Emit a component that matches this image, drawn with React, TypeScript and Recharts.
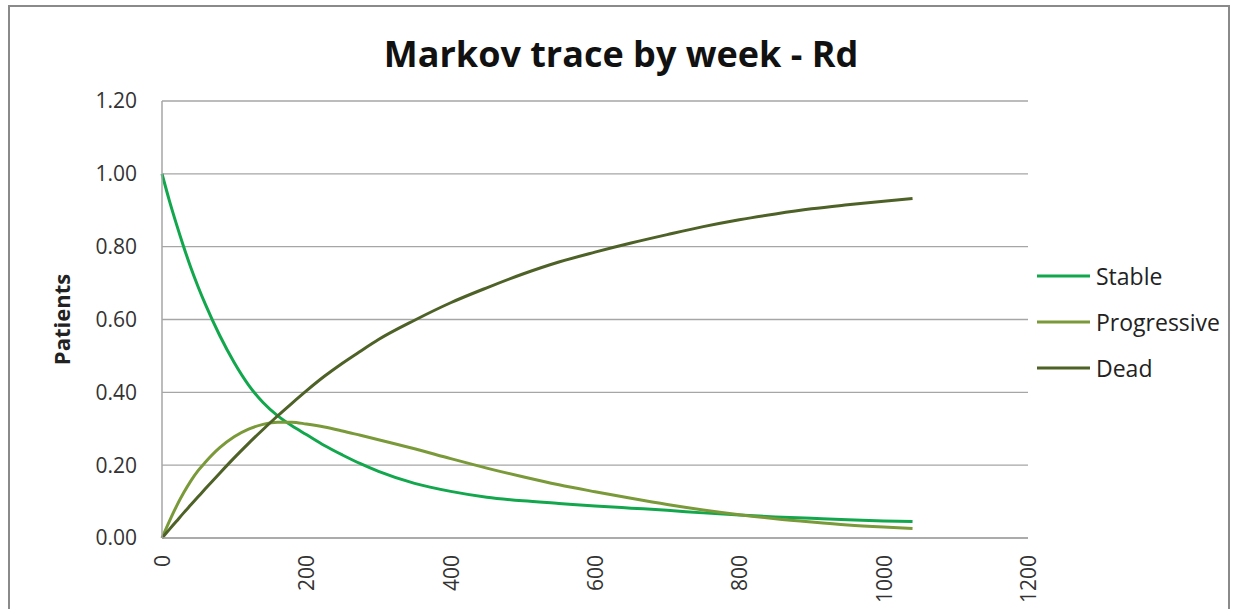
import React from 'react';
import { LineChart, Line, XAxis, YAxis, CartesianGrid, Legend } from 'recharts';

const weeks = [0, 10, 20, 30, 40, 50, 60, 80, 100, 120, 140, 160, 180, 200, 225, 250, 275, 300, 350, 400, 450, 500, 550, 600, 650, 700, 750, 800, 850, 900, 950, 1000, 1040];
const stable = [1.0, 0.928, 0.862, 0.8, 0.742, 0.69, 0.642, 0.556, 0.482, 0.42, 0.372, 0.336, 0.308, 0.284, 0.254, 0.228, 0.204, 0.183, 0.15, 0.128, 0.112, 0.102, 0.095, 0.088, 0.082, 0.076, 0.069, 0.063, 0.058, 0.054, 0.05, 0.047, 0.045];
const progressive = [0, 0.045, 0.087, 0.124, 0.157, 0.185, 0.208, 0.248, 0.278, 0.299, 0.312, 0.318, 0.318, 0.313, 0.305, 0.294, 0.282, 0.27, 0.245, 0.218, 0.192, 0.168, 0.146, 0.127, 0.109, 0.092, 0.077, 0.064, 0.053, 0.044, 0.036, 0.03, 0.026];
const dead = [0, 0.023, 0.046, 0.069, 0.091, 0.113, 0.135, 0.178, 0.22, 0.26, 0.298, 0.335, 0.37, 0.404, 0.444, 0.48, 0.513, 0.545, 0.598, 0.646, 0.687, 0.725, 0.758, 0.785, 0.81, 0.833, 0.855, 0.874, 0.89, 0.904, 0.915, 0.925, 0.932];

const seriesNames = ['Stable', 'Progressive', 'Dead'];
const seriesColors = ['#12a74c', '#7a9a3a', '#4e6127'];
const xTicks = [0, 200, 400, 600, 800, 1000, 1200];
const yTicks = [0, 0.2, 0.4, 0.6, 0.8, 1.0, 1.2];
const title = 'Markov trace by week - Rd';
const yLabel = 'Patients';

const data = weeks.map((w, i) => ({
  week: w,
  Stable: stable[i],
  Progressive: progressive[i],
  Dead: dead[i],
}));

const FONT = '"Open Sans", Lato, sans-serif';

const XTick = (props: any) => {
  const { x, y, payload } = props;
  return (
    <text
      x={x}
      y={y}
      transform={`rotate(-90, ${x}, ${y})`}
      textAnchor="end"
      dominantBaseline="central"
      fontSize={21}
      fontFamily={FONT}
      fill="#333"
    >
      {payload.value}
    </text>
  );
};

const LegendContent = (props: any) => {
  const payload = [...(props.payload || [])].sort(
    (a: any, b: any) => seriesNames.indexOf(a.value) - seriesNames.indexOf(b.value)
  );
  return (
    <div style={{ fontFamily: FONT }}>
      {payload.map((p: any) => (
        <div key={p.value} style={{ height: 46, display: 'flex', alignItems: 'center' }}>
          <svg width={60} height={10} style={{ display: 'block' }}>
            <line x1={7} y1={5} x2={60} y2={5} stroke={p.color} strokeWidth={3} />
          </svg>
          <span style={{ fontSize: 23, color: '#222', marginLeft: 6, lineHeight: '26px' }}>{p.value}</span>
        </div>
      ))}
    </div>
  );
};

export default function App() {
  return (
    <div style={{ position: 'absolute', left: 0, top: 0, width: 1236, height: 609, overflow: 'hidden', background: '#fff' }}>
      <div
        style={{
          position: 'absolute',
          left: 8,
          top: 5,
          width: 1218,
          height: 640,
          border: '2px solid #8a8a8a',
          boxSizing: 'content-box',
        }}
      />
      <div
        style={{
          position: 'absolute',
          left: 0,
          top: 33,
          width: 1242,
          textAlign: 'center',
          fontFamily: FONT,
          fontWeight: 700,
          fontSize: 36,
          lineHeight: '42px',
          color: '#111',
        }}
      >
        {title}
      </div>
      <div style={{ position: 'absolute', left: 0, top: 0 }}>
        <LineChart
          width={1236}
          height={609}
          data={data}
          margin={{ top: 101, right: 208, bottom: 11, left: 40 }}
        >
          <CartesianGrid horizontal={true} vertical={false} stroke="#a6a6a6" strokeWidth={1.3} />
          <XAxis
            dataKey="week"
            type="number"
            domain={[0, 1200]}
            ticks={xTicks}
            interval={0}
            height={60}
            tickLine={false}
            tickSize={0}
            tickMargin={17}
            axisLine={{ stroke: '#a6a6a6', strokeWidth: 1.5 }}
            tick={<XTick />}
          />
          <YAxis
            type="number"
            domain={[0, 1.2]}
            ticks={yTicks}
            interval={0}
            width={122}
            tickLine={false}
            tickSize={0}
            tickMargin={25}
            axisLine={{ stroke: '#a6a6a6', strokeWidth: 1.5 }}
            tickFormatter={(v: number) => v.toFixed(2)}
            tick={{ fontSize: 21, fontFamily: FONT, fill: '#333' }}
            label={{
              value: yLabel,
              angle: -90,
              position: 'insideLeft',
              offset: 22,
              style: { textAnchor: 'middle', fontSize: 22, fontWeight: 700, fontFamily: FONT, fill: '#222' },
            }}
          />
          <Legend
            layout="vertical"
            align="center"
            verticalAlign="middle"
            wrapperStyle={{ left: 1030, top: 253, width: 206 }}
            content={<LegendContent />}
          />
          {seriesNames.map((name, i) => (
            <Line
              key={name}
              type="monotone"
              dataKey={name}
              name={name}
              stroke={seriesColors[i]}
              strokeWidth={3}
              dot={false}
              activeDot={false}
              isAnimationActive={false}
            />
          ))}
        </LineChart>
      </div>
    </div>
  );
}
